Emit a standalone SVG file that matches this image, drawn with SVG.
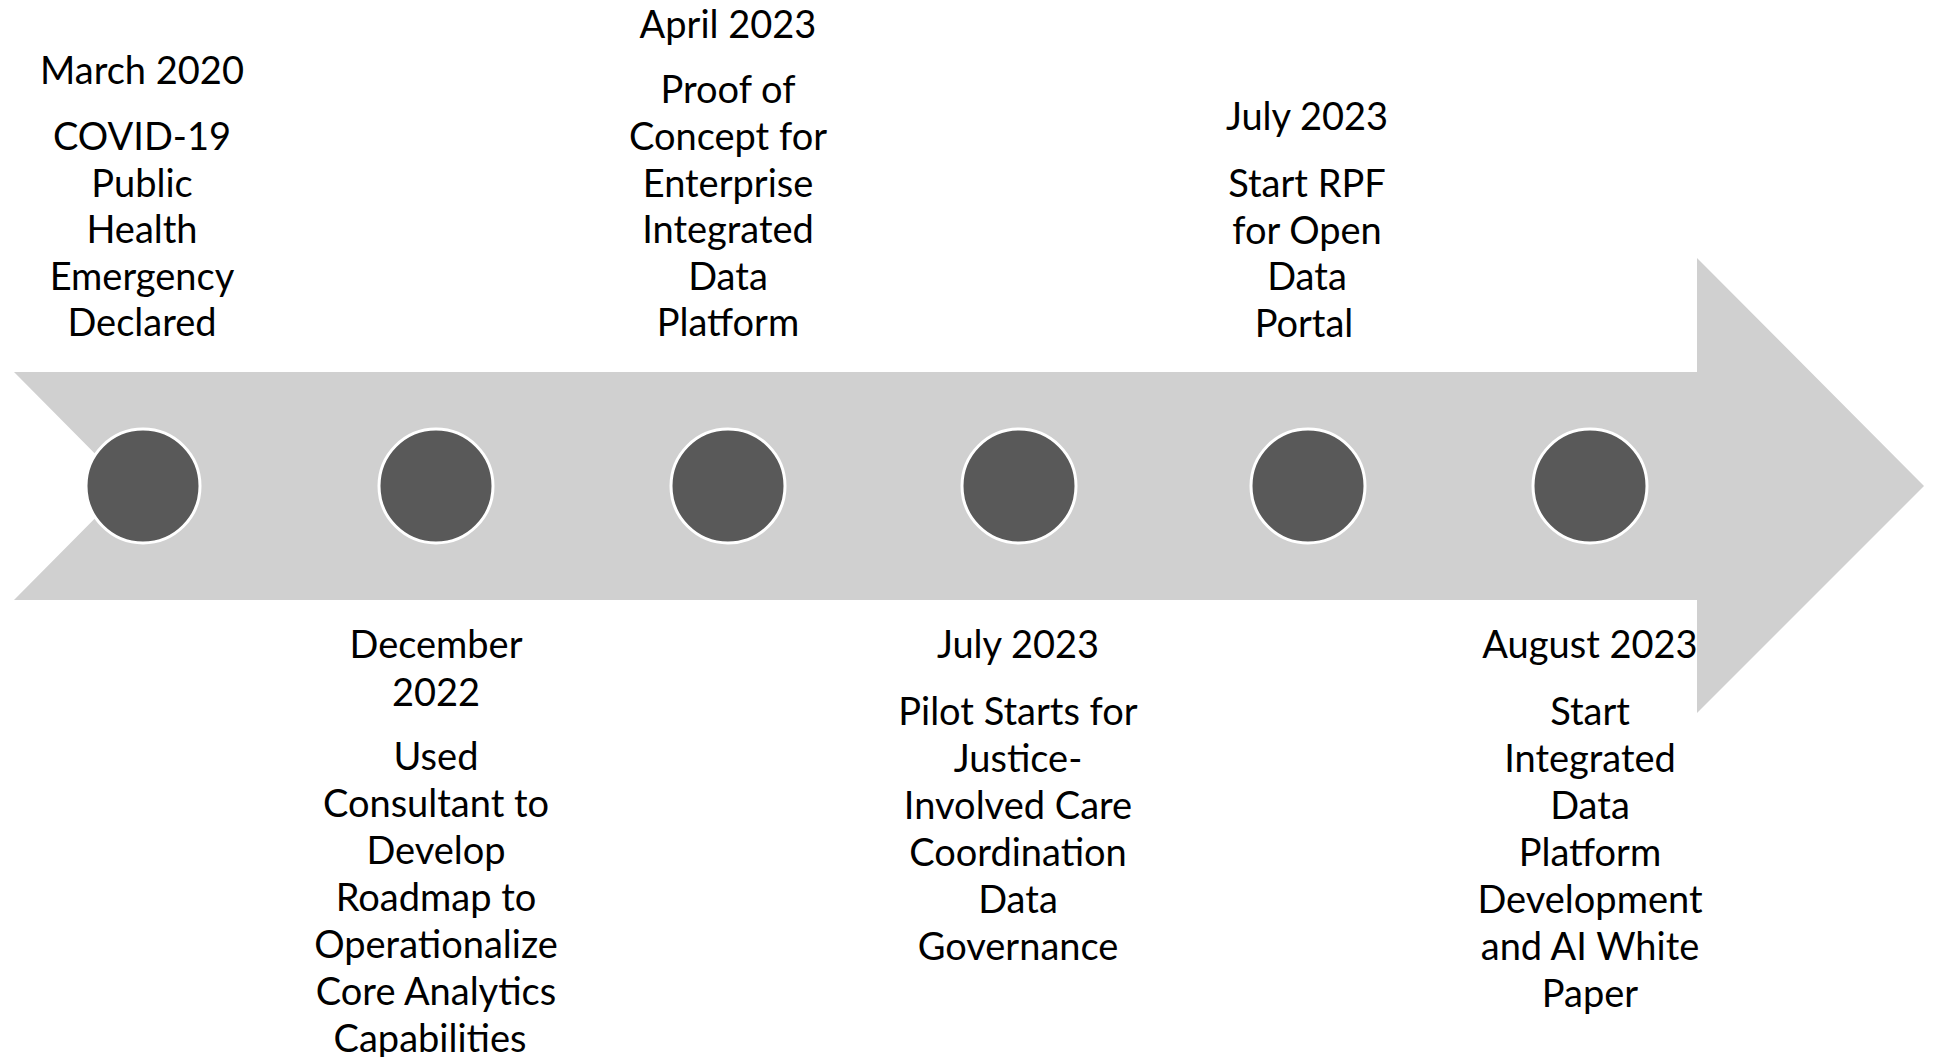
<svg xmlns="http://www.w3.org/2000/svg" width="1936" height="1057" viewBox="0 0 1936 1057">
<style>
.t{font-family:Lato,"Liberation Sans",sans-serif;font-size:38px;fill:#000;text-anchor:middle}
.dot{fill:#595959;stroke:#fff;stroke-width:3}
</style>
<rect width="1936" height="1057" fill="#fff"/>
<g id="arrow">
<polygon points="14,372 1697,372 1697,258 1924,486 1697,713 1697,600 14,600 127,486" fill="#d0d0d0"/>
</g>
<g id="connectors"></g>
<g id="m1">
<circle class="dot" cx="143" cy="486" r="57"/>
<text class="t"><tspan x="142" y="84">March 2020</tspan><tspan x="142" y="150">COVID-19</tspan><tspan x="142" y="197">Public</tspan><tspan x="142" y="243">Health</tspan><tspan x="142" y="290">Emergency</tspan><tspan x="142" y="336">Declared</tspan></text>
</g>
<g id="m2">
<circle class="dot" cx="436" cy="486" r="57"/>
<text class="t"><tspan x="436" y="658">December</tspan><tspan x="436" y="706">2022</tspan><tspan x="436" y="770">Used</tspan><tspan x="436" y="817">Consultant to</tspan><tspan x="436" y="864">Develop</tspan><tspan x="436" y="911">Roadmap to</tspan><tspan x="436" y="958">Operationalize</tspan><tspan x="436" y="1005">Core Analytics</tspan><tspan x="430" y="1052">Capabilities</tspan></text>
</g>
<g id="m3">
<circle class="dot" cx="728" cy="486" r="57"/>
<text class="t"><tspan x="728" y="38">April 2023</tspan><tspan x="728" y="103">Proof of</tspan><tspan x="728" y="150">Concept for</tspan><tspan x="728" y="197">Enterprise</tspan><tspan x="728" y="243">Integrated</tspan><tspan x="728" y="290">Data</tspan><tspan x="728" y="336">Platform</tspan></text>
</g>
<g id="m4">
<circle class="dot" cx="1019" cy="486" r="57"/>
<text class="t"><tspan x="1018" y="658">July 2023</tspan><tspan x="1018" y="725">Pilot Starts for</tspan><tspan x="1018" y="772">Justice-</tspan><tspan x="1018" y="819">Involved Care</tspan><tspan x="1018" y="866">Coordination</tspan><tspan x="1018" y="913">Data</tspan><tspan x="1018" y="960">Governance</tspan></text>
</g>
<g id="m5">
<circle class="dot" cx="1308" cy="486" r="57"/>
<text class="t"><tspan x="1307" y="130">July 2023</tspan><tspan x="1307" y="197">Start RPF</tspan><tspan x="1307" y="244">for Open</tspan><tspan x="1307" y="290">Data</tspan><tspan x="1304" y="337">Portal</tspan></text>
</g>
<g id="m6">
<circle class="dot" cx="1590" cy="486" r="57"/>
<text class="t"><tspan x="1590" y="658">August 2023</tspan><tspan x="1590" y="725">Start</tspan><tspan x="1590" y="772">Integrated</tspan><tspan x="1590" y="819">Data</tspan><tspan x="1590" y="866">Platform</tspan><tspan x="1590" y="913">Development</tspan><tspan x="1590" y="960">and AI White</tspan><tspan x="1590" y="1007">Paper</tspan></text>
</g>
</svg>
